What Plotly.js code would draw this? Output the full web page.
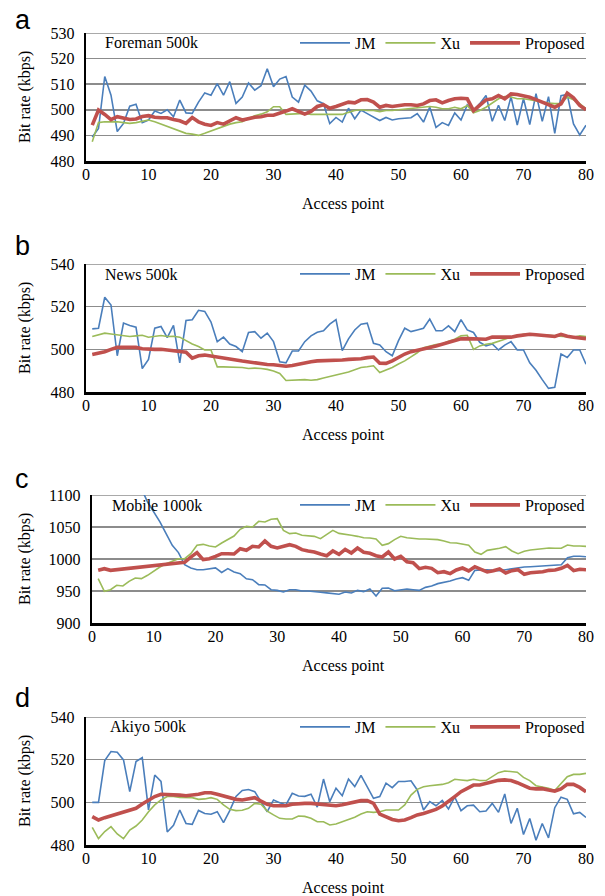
<!DOCTYPE html>
<html>
<head>
<meta charset="utf-8">
<script src="https://cdn.plot.ly/plotly-3.0.1.min.js"></script>
<style>
  html, body { margin: 0; padding: 0; background: #fff; }
  #chart { width: 605px; height: 896px; }
</style>
</head>
<body>
<div id="chart"></div>
<script>
// ---------- data ----------
const accessPoints = [1,2,3,4,5,6,7,8,9,10,11,12,13,14,15,16,17,18,19,20,
  21,22,23,24,25,26,27,28,29,30,31,32,33,34,35,36,37,38,39,40,
  41,42,43,44,45,46,47,48,49,50,51,52,53,54,55,56,57,58,59,60,
  61,62,63,64,65,66,67,68,69,70,71,72,73,74,75,76,77,78,79,80];

const seriesNames = ['JM', 'Xu', 'Proposed'];
const panelLetters = ['a', 'b', 'c', 'd'];
const panelTitles = ['Foreman 500k', 'News 500k', 'Mobile 1000k', 'Akiyo 500k'];
const xTitle = 'Access point';
const yTitle = 'Bit rate (kbps)';

// (a) Foreman 500k
const foremanJM = [489.4,492.7,513,505.7,491.5,494.7,501.4,502.2,495,496,
  499.5,498.6,500,497.3,503.8,498.8,498.6,503,506.6,505.7,
  510.2,505.7,511,502.5,505,510.5,507.7,509.4,516,509,
  512,513,505,503,509.6,507.3,503.5,502.4,494.6,497,
  495.2,500.6,496.5,499.9,498.5,497.1,495.8,497,496,496.5,
  496.8,496.9,498.5,495.2,501.1,493.1,495,493.9,498.8,496,
  501.9,499.7,502.4,505.6,495.5,501.8,495.8,505.1,494,504.4,
  494.2,506.3,495.5,505.1,490.8,505.5,506,494.5,490.2,494];
const foremanXu = [487.5,495,495.3,495.3,495.3,495,494.7,495,495.6,496,
  495.3,494.4,493.4,492.5,491.7,490.8,490.5,490,490.8,491.7,
  492.6,493.6,494.4,495,495.3,496.6,497.7,498.3,499.2,501.2,
  501.2,498.2,498.3,498.3,498.6,498.2,498.2,498.3,498.3,498.2,
  498.2,499,499.7,500,499.7,499.7,499.3,499.7,499.7,500,
  500.3,500.5,500.7,501,501.3,501,500.4,500.4,501,500.4,
  501.7,498.8,499.7,501,502.6,504.3,505.2,505,504.3,504.3,
  503.9,503.4,503,502.6,502.4,502.4,505,503.9,502.4,500.4];
const foremanProposed = [494,499.9,498.2,496.2,497.3,496.9,496.2,496.4,497.4,497.7,
  497.1,496.9,496.9,496.2,495.7,494.7,497,495.3,494.4,493.9,
  495,494.4,495.5,496.9,496,496.6,497.1,497.3,497.9,497.9,
  498.6,499.5,500.4,499.5,498.3,499.4,501.3,502,500.6,501.3,
  502.3,503,502.7,503.9,504,503,501,501.7,501.3,501.7,
  502,502,501.7,502.3,503.6,503.9,502.7,503.6,504.3,504.5,
  504.3,499.7,501.7,503.9,504.3,505.6,504.3,506.2,506,505.6,
  504.9,504,503,502.3,501,502.3,506.5,504.7,501.7,500];

// (b) News 500k
const newsJM = [509.6,509.9,524.4,520.8,497,512.3,511.2,510.4,491,495.3,
  509.9,510.7,505.5,511.2,493.7,513.5,513.9,518.3,517.8,512.8,
  503.6,505.7,502.5,501.3,498.9,507.9,508.3,505.2,507.6,503.6,
  494.2,493.7,499.2,499.2,503.6,506.3,508,508.7,511.8,513.9,
  499.4,504.9,509.1,511.8,512.3,502.8,502,498.9,497,504.1,
  509.9,508.3,509.1,509.9,514.2,508.7,508.7,511,508.3,513.9,
  509.1,507.9,503.3,501.6,502.5,499.7,502,503.6,499.7,499.7,
  493.7,490.2,485.8,481.7,482.2,497.8,496.2,499.7,499.7,493];
const newsXu = [506,506.8,507.6,507.2,506.8,506.6,506,506.3,506.6,505.7,
  506,506.5,506,506.1,505.7,504.1,502.5,501.3,499.7,499.7,
  491.8,491.8,491.8,491.7,491.5,491,491.2,491,490.6,489.8,
  488.7,485.4,485.5,485.4,485.8,485.5,485.8,486.6,487.4,487.9,
  488.7,489.4,490.6,491.5,491.8,492.3,489.1,490.2,491.5,493.1,
  494.6,496.5,498.4,500.8,501.6,502.2,502.5,503.8,504.7,506.3,
  506.6,500,501.6,502.4,502.8,503.6,504.7,505.7,506.3,507.1,
  507.2,506.6,506.8,506.6,506.6,506.3,506,505.7,506.3,506];
const newsProposed = [497.6,498.1,498.9,500,500.9,500.9,500.9,500.9,500.3,500,
  500,500,499.7,499.5,499.2,498.7,495.9,497,497.3,496.9,
  496.5,496.2,495.4,495,494.5,494,493.5,493.2,492.9,492.8,
  492.4,492.1,492.4,493.1,493.5,494.2,494.6,494.6,494.6,495,
  495,495.3,495.4,495.6,496.1,496.4,493.5,493.4,494.6,496.2,
  497.8,498.9,499.7,500.3,500.9,501.6,502.4,503.1,503.9,504.9,
  505,504.9,505,504.7,505.7,505.8,505.8,505.7,506.3,506.8,
  507.1,506.8,506.5,506,506,507,506.1,505.7,505.4,505];

// (c) Mobile 1000k
const mobileJM = [1185,1172,1160,1148,1137,1127,1118,1110,1089,1074.5,
  1058,1039.6,1021.4,1010,991,986,983.3,983.3,985,986,
  979,985,979.7,977,969,967.7,960,959.4,952,951,
  948.4,952,952,950,950,949.5,948,947,946,945,
  948.4,947,951,949,953,942.2,954.2,954.7,950.5,951.6,
  953,952,951,955.7,957.8,961.5,963.5,965.6,968.8,970.8,
  966.7,982.3,982.8,983.3,982.3,981.8,983.3,984.9,986,987.5,
  988,988.5,989,990.6,990.6,991.1,1002,1004.2,1004.2,1003.6];
const mobileXu = [969.3,949.5,952,958.9,957.8,965.1,970.3,969.3,974.5,981.3,
  987.5,992.7,996.9,1000.5,1000.5,1008.3,1021.4,1022.9,1020.3,1018.8,
  1025,1030.7,1035.9,1046.4,1051,1050,1058.9,1057.8,1062,1063,
  1044.8,1039.6,1040.6,1037,1036,1035.4,1031.8,1038.5,1044.8,1040,
  1039,1037,1035.4,1033.3,1032.8,1031.3,1021.4,1024,1030.2,1035.4,
  1033.3,1031.8,1031.3,1031.3,1030.7,1030.2,1028.1,1025.5,1025,1022.9,
  1021.4,1010.9,1007.3,1013.5,1014.6,1016.7,1019.3,1012.5,1008.3,1012,
  1014.1,1015.1,1015.6,1017.2,1016.7,1016.7,1021.9,1020.3,1020.3,1019.8];
const mobileProposed = [982.3,984.9,982.3,983.3,984.4,985.4,986.5,987.5,988.5,989.6,
  991.7,992.7,993.2,994.3,994.8,1003,1009.9,999,1000.5,1004.2,
  1008.3,1008.3,1007.8,1016.1,1013.5,1019.8,1018.8,1028.1,1019.8,1017.2,
  1019.8,1022.4,1019.8,1014.6,1012.5,1010.9,1007.8,1005.2,1012.5,1007.3,
  1015.1,1009.4,1017.2,1010.4,1008.9,1005.2,1003.1,1010.9,1000,1004.2,
  995.8,994.3,984.9,987,985.4,978.6,980.2,977.1,982.8,985.9,
  981.3,988,983.9,979.7,981.8,984.4,978.1,981.8,983.3,976,
  978.6,979.2,980.2,982.3,982.8,985.4,990.1,981.8,983.9,983.3];

// (d) Akiyo 500k
const akiyoJM = [500,500,519.6,523.8,523.5,519.9,505,519.1,521,496.5,
  512.8,509.8,486.1,489.2,496.4,490.1,489.7,496.2,494.8,494.4,
  495.6,490.5,496.1,502.8,505.6,506,505,500.4,495.6,501.1,
  499.8,498.9,504.2,503,502.8,503.8,497.8,510.9,500.3,506.6,
  503.1,510.9,507.4,512.6,507.4,501.9,502.7,509,506.9,509.8,
  509.8,510.1,505.8,496.4,500.3,498.4,500.9,496.9,502.5,496.1,
  498.4,498.7,495.6,495.9,499.5,495.3,503.9,490.1,497.2,484.9,
  492.4,482.2,490.1,483.3,497.5,502.4,501.4,494.6,495.3,492.9];
const akiyoXu = [488.3,483,486.3,488.6,485.2,483,487,488.9,491.7,495.6,
  498.8,501.1,502.7,502.7,502.3,502.3,502.2,501.4,501.6,502.2,
  501.4,498.8,496.7,496.1,496.3,497.2,499.5,499.1,495.9,494.1,
  492.5,492.2,492.2,493.6,493.4,492.5,490.9,490.9,489.4,489.8,
  490.9,492,493,494.5,495.6,495.3,495.6,496.4,496.4,496.4,
  498.8,503.4,506.1,507.3,507.8,508,508.4,509.2,510.8,510.5,
  510.2,510.8,510.2,510.2,512,513.9,514.7,514.5,514.1,511.7,
  510.2,507.8,507.3,506.6,505.5,508.9,512,513.1,513.1,513.6];
const akiyoProposed = [493.3,491.7,492.8,493.6,494.5,495.5,496.1,497.2,499.2,501.1,
  502.7,503.8,503.8,503.8,503.4,503.1,503.3,503.8,504.5,504.5,
  503.8,503,502.3,501.4,501.1,501.7,502.2,500.6,499.1,498.4,
  498.3,498.4,499.1,499.5,499.5,499.5,499.2,498.8,498.4,498.4,
  498.9,499.4,500.2,500.8,500.8,499.5,494.5,493.3,492,491.4,
  491.7,492.8,494.1,494.8,495.6,496.7,498.3,500.3,502.7,505,
  506.4,508.1,508.1,508.9,509.7,510.3,510.5,510.2,509.2,507.7,
  506.6,506.3,506.4,505.8,505.3,506.3,508.4,508.4,507,505];

const yRanges = [[480, 530], [480, 540], [900, 1100], [480, 540]];
const yTicks = [10, 20, 50, 20];

// ---------- layout helpers ----------
const W = 605, H = 896;
const panelData = [
  [foremanJM, foremanXu, foremanProposed],
  [newsJM, newsXu, newsProposed],
  [mobileJM, mobileXu, mobileProposed],
  [akiyoJM, akiyoXu, akiyoProposed]
];
// plot boxes in pixels: [left, right, top, bottom]
const boxes = [[86, 586, 33, 161], [86, 586, 264, 392], [92, 586, 495, 623], [86, 586, 717, 845]];
const letterY = [20, 246, 479, 698];
const titleX = [103, 103, 110, 108];
const colors = ['#4A7EBB', '#9BBB59', '#C0504D'];
const widths = [1.6, 1.6, 3.6];
const serif = '"Liberation Serif", "Times New Roman", Times, serif';
const FS = 16;

const traces = [];
const layout = {
  width: W, height: H,
  margin: {l: 0, r: 0, t: 0, b: 0},
  paper_bgcolor: '#fff', plot_bgcolor: '#fff',
  font: {family: serif, size: FS, color: '#000'},
  annotations: [], shapes: [], showlegend: true
};

boxes.forEach((b, p) => {
  const suf = p === 0 ? '' : String(p + 1);
  const legName = 'legend' + suf;
  panelData[p].forEach((ys, s) => {
    traces.push({
      x: accessPoints, y: ys, type: 'scatter', mode: 'lines',
      name: seriesNames[s], xaxis: 'x' + suf, yaxis: 'y' + suf, legend: legName,
      line: {color: colors[s], width: widths[s]}, hoverinfo: 'skip'
    });
  });
  layout['xaxis' + suf] = {
    domain: [b[0] / W, b[1] / W], anchor: 'y' + suf,
    range: [0, 80], tick0: 0, dtick: 10, showgrid: false, zeroline: false,
    showline: true, linecolor: '#000', linewidth: 2.6, ticks: '',
    tickfont: {family: serif, size: FS, color: '#000'}, ticklabelstandoff: -3, fixedrange: true
  };
  layout['yaxis' + suf] = {
    domain: [1 - b[3] / H, 1 - b[2] / H], anchor: 'x' + suf,
    range: yRanges[p], tick0: yRanges[p][0], dtick: yTicks[p],
    showgrid: true, gridcolor: '#8C8C8C', gridwidth: 1.5, zeroline: false,
    showline: true, linecolor: '#000', linewidth: 2.4, ticks: '',
    tickfont: {family: serif, size: FS, color: '#000'}, ticklabelstandoff: 6, fixedrange: true
  };
  // top gridline (at the range maximum)
  layout.shapes.push({
    type: 'line', xref: 'x' + suf + ' domain', yref: 'y' + suf,
    x0: 0, x1: 1, y0: yRanges[p][1], y1: yRanges[p][1],
    line: {color: '#8C8C8C', width: 1.5}, layer: 'below'
  });
  layout[legName] = {
    orientation: 'h', x: 295 / W, xanchor: 'left', y: 1 - (b[2] + 10) / H, yanchor: 'middle',
    bgcolor: 'rgba(0,0,0,0)', borderwidth: 0, font: {family: serif, size: FS, color: '#000'},
    itemwidth: 50, tracegroupgap: 0
  };
  // panel letter
  layout.annotations.push({
    text: panelLetters[p], xref: 'paper', yref: 'paper', x: 13 / W, y: 1 - letterY[p] / H,
    xanchor: 'left', yanchor: 'middle', showarrow: false,
    font: {family: '"Liberation Sans", Arial, sans-serif', size: 27, color: '#000'}
  });
  // panel title
  layout.annotations.push({
    text: panelTitles[p], xref: 'paper', yref: 'paper', x: titleX[p] / W, y: 1 - (b[2] + 10) / H,
    xanchor: 'left', yanchor: 'middle', showarrow: false,
    font: {family: serif, size: FS, color: '#000'}
  });
  // axis titles
  layout.annotations.push({
    text: yTitle, xref: 'paper', yref: 'paper', x: 25 / W, y: 1 - ((b[2] + b[3]) / 2) / H,
    xanchor: 'center', yanchor: 'middle', textangle: -90, showarrow: false,
    font: {family: serif, size: FS, color: '#000'}
  });
  layout.annotations.push({
    text: xTitle, xref: 'paper', yref: 'paper', x: 343 / W, y: 1 - (b[3] + 43) / H,
    xanchor: 'center', yanchor: 'middle', showarrow: false,
    font: {family: serif, size: FS, color: '#000'}
  });
});

Plotly.newPlot('chart', traces, layout, {displayModeBar: false, staticPlot: true});
</script>
</body>
</html>
